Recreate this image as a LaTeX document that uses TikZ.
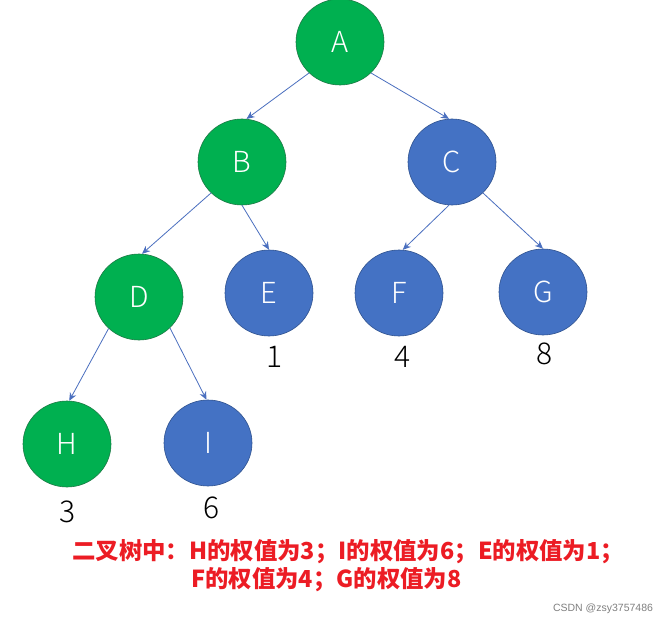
\documentclass[tikz,border=0pt]{standalone}
\usepackage{fontspec}
\setmainfont{Carlito}
\newfontfamily\cjkfont{Noto Sans CJK SC}
\newfontfamily\lightfont{Noto Sans CJK SC Light}
\newfontfamily\wmfont{Liberation Sans}
\usetikzlibrary{arrows.meta,shapes.geometric}
\definecolor{gfill}{HTML}{00B050}
\definecolor{gline}{HTML}{1C7A45}
\definecolor{bfill}{HTML}{4472C4}
\definecolor{bline}{HTML}{2F528F}
\definecolor{edgec}{HTML}{4A6FBF}
\definecolor{notered}{HTML}{EC1C24}
\begin{document}
\begin{tikzpicture}[x=1pt,y=-1pt,
  vtx/.style={ellipse,minimum width=88pt,minimum height=86pt,inner sep=0pt,line width=0.6pt,
    text=white,font=\lightfont\fontsize{29}{29}\selectfont},
  gv/.style={vtx,fill=gfill,draw=gline},
  bv/.style={vtx,fill=bfill,draw=bline},
  edge/.style={draw=edgec,line width=0.8pt,-{Stealth[length=8pt,width=7pt]}},
  wt/.style={anchor=base,inner sep=0pt,font=\lightfont\fontsize{30}{30}\selectfont},
  note/.style={anchor=base west,inner sep=0pt,text=notered,font=\cjkfont\bfseries\fontsize{23.4}{23.4}\selectfont}]
\useasboundingbox[fill=white] (0,0) rectangle (664,623);
\node[gv] (A) at (340,42) {A};
\node[gv] (B) at (242,162) {B};
\node[bv] (C) at (452,162) {C};
\node[gv] (D) at (139,297) {D};
\node[bv] (E) at (269,293) {E};
\node[bv] (F) at (399,293) {F};
\node[bv] (G) at (543,292) {G};
\node[gv] (H) at (67,444) {H};
\node[bv] (I) at (208,443) {I};
\draw[edge] (A.225) -- (B.84);
\draw[edge] (A.315) -- (C.94);
\draw[edge] (B.225) -- (D.86);
\draw[edge] (B.270) -- (E.90);
\draw[edge] (C.266) -- (F.85);
\draw[edge] (C.315) -- (G.90);
\draw[edge] (D.226) -- (H.87);
\draw[edge] (D.315) -- (I.92);
\node[wt] (w1) at (275,367) {1};
\node[wt] (w4) at (403,367) {4};
\node[wt] (w8) at (545,364) {8};
\node[wt] (w3) at (68,522) {3};
\node[wt] (w6) at (212,518) {6};
\node[note] (n1) at (72,559) {二叉树中：H的权值为3；I的权值为6；E的权值为1；};
\node[note] (n2) at (191,587) {F的权值为4；G的权值为8};
\node[inner sep=0pt,text=black!50,font=\wmfont\fontsize{10.5}{10.5}\selectfont] (wm) at (603,609) {CSDN @zsy3757486};
\end{tikzpicture}
\end{document}
